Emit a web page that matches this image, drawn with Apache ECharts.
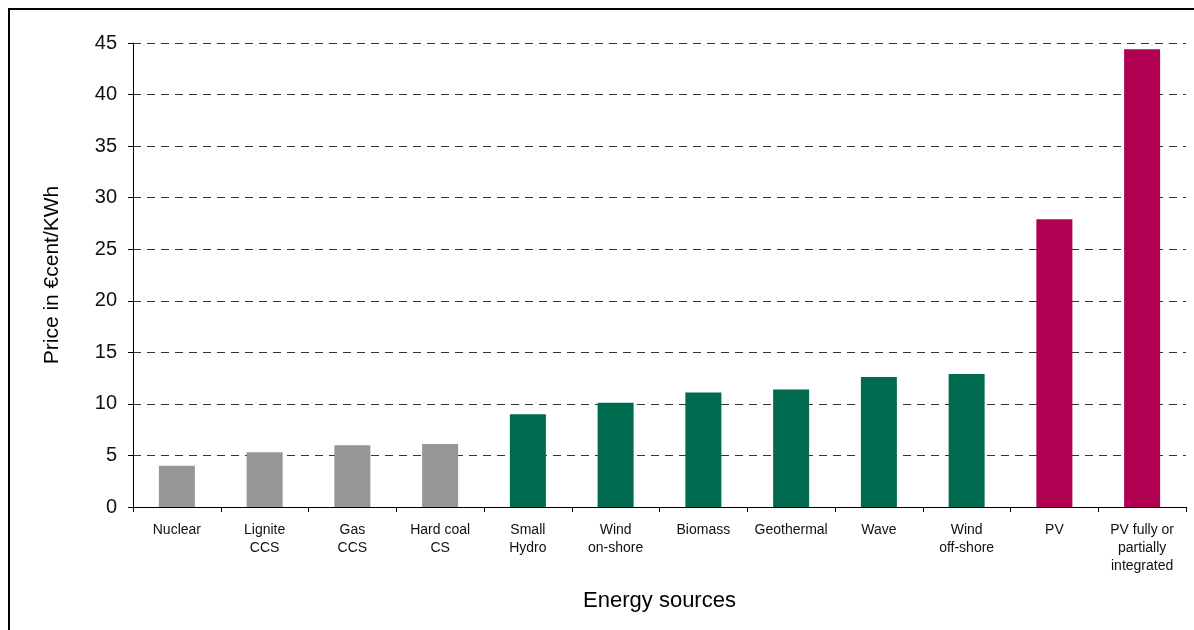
<!DOCTYPE html>
<html>
<head>
<meta charset="utf-8">
<title>Energy sources price</title>
<script src="https://cdn.jsdelivr.net/npm/echarts@6/dist/echarts.min.js"></script>
<style>
  html, body { margin: 0; padding: 0; background: #fff; }
  #main { width: 1194px; height: 630px; }
</style>
</head>
<body>
<div id="main"></div>
<script>
// data
var categories = ['Nuclear', 'Lignite\nCCS', 'Gas\nCCS', 'Hard coal\nCS', 'Small\nHydro',
  'Wind\non-shore', 'Biomass', 'Geothermal', 'Wave', 'Wind\noff-shore', 'PV',
  'PV fully or\npartially\nintegrated'];
var prices = [4.0, 5.3, 6.0, 6.1, 9.0, 10.1, 11.1, 11.4, 12.6, 12.9, 27.9, 44.4];
var groups = ['fossil', 'fossil', 'fossil', 'fossil', 'renew', 'renew', 'renew',
  'renew', 'renew', 'renew', 'pv', 'pv'];
var yTicks = [0, 45, 5]; // min, max, step

var groupColors = { fossil: '#969696', renew: '#006B4F', pv: '#AF0051' };

var myChart = echarts.init(document.getElementById('main'));

var option = {
  backgroundColor: '#fff',
  animation: false,
  textStyle: { fontFamily: 'Liberation Sans, Arial, sans-serif' },
  graphic: [{
    type: 'rect',
    shape: { x: 9, y: 9, width: 1200, height: 700 },
    style: { fill: 'none', stroke: '#000', lineWidth: 2 },
    silent: true
  }],
  grid: { left: 133, right: 8, top: 43, bottom: 123 },
  xAxis: {
    type: 'category',
    data: categories,
    name: 'Energy sources',
    nameLocation: 'middle',
    nameGap: 83,
    nameTextStyle: { fontSize: 22, color: '#000' },
    axisLine: { lineStyle: { color: '#000', width: 1 } },
    axisTick: { show: true, length: 5, lineStyle: { color: '#000' } },
    axisLabel: {
      interval: 0,
      margin: 14,
      fontSize: 14,
      lineHeight: 18,
      color: '#111',
      align: 'center'
    }
  },
  yAxis: {
    type: 'value',
    min: yTicks[0],
    max: yTicks[1],
    interval: yTicks[2],
    name: 'Price in €cent/KWh',
    nameLocation: 'middle',
    nameGap: 70,
    nameRotate: 90,
    nameTextStyle: { fontSize: 21, color: '#000' },
    axisLine: { show: true, lineStyle: { color: '#000', width: 1 } },
    axisTick: { show: true, length: 5, lineStyle: { color: '#000' } },
    axisLabel: { fontSize: 20, color: '#111', margin: 16 },
    splitLine: {
      show: true,
      lineStyle: { color: '#333', type: [8, 6], width: 1 }
    }
  },
  series: [{
    name: 'Price',
    type: 'bar',
    data: prices,
    barWidth: 36,
    itemStyle: {
      color: function (p) { return groupColors[groups[p.dataIndex]]; }
    }
  }]
};

myChart.setOption(option);
</script>
</body>
</html>
